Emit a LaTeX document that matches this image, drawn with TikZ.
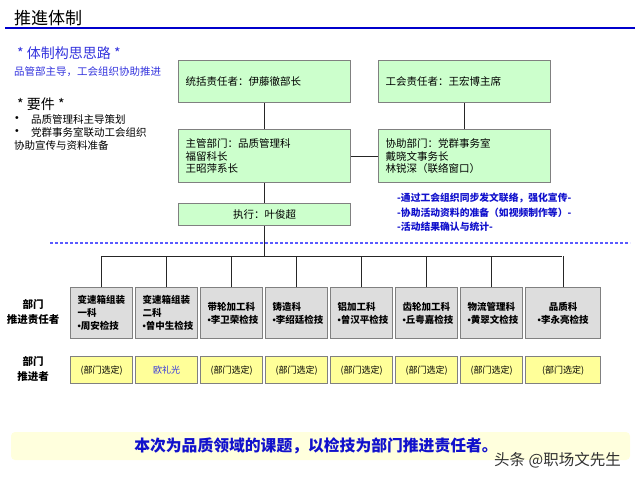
\documentclass[tikz,border=0pt]{standalone}
\usepackage{fontspec}
\setmainfont{Noto Sans CJK SC}
\newfontfamily\blt{Liberation Sans}
\newcommand{\bul}{{\blt •}}
\definecolor{boxgray}{RGB}{128,128,128}
\definecolor{gfill}{RGB}{204,255,204}
\definecolor{dfill}{RGB}{221,221,221}
\definecolor{yfill}{RGB}{255,255,153}
\definecolor{bfill}{RGB}{255,255,221}
\definecolor{titleblue}{RGB}{0,0,204}
\definecolor{lblue}{RGB}{51,51,221}
\definecolor{dblue}{RGB}{17,17,204}
\definecolor{dashblue}{RGB}{90,90,255}
\definecolor{wm}{RGB}{50,50,50}
\tikzset{
  greenbox/.style={draw=boxgray, line width=1.3pt, fill=gfill, inner xsep=7pt, inner ysep=0pt,
    align=left, anchor=north west, font=\fontsize{10.5}{12.5}\selectfont},
  graybox/.style={draw=boxgray, line width=1.3pt, fill=dfill, inner xsep=7pt, inner ysep=0pt,
    align=left, anchor=north west, minimum height=51pt, font=\bfseries\fontsize{9.5}{13}\selectfont},
  yelbox/.style={draw=boxgray, line width=1.3pt, fill=yfill, inner sep=0pt,
    align=center, anchor=north west, minimum height=27pt, font=\fontsize{9}{11}\selectfont},
  conn/.style={draw=black!85, line width=0.9pt},
  lbl/.style={anchor=west, inner sep=0pt},
}
\begin{document}
\begin{tikzpicture}[x=1pt,y=-1pt]
\useasboundingbox (0,0) rectangle (640,480);
% title
\node[lbl, font=\fontsize{17}{19}\selectfont] (title) at (14,18) {推進体制};
\draw[titleblue, line width=2.5pt] (5,28) -- (635,28);
% left texts
\node[lbl, text=lblue, font=\fontsize{14}{16}\selectfont] (t1) at (17,53) {* 体制构思思路 *};
\node[lbl, text=lblue, font=\fontsize{10.5}{12}\selectfont] (t2) at (14,72) {品管部主导，工会组织协助推进};
\node[lbl, font=\fontsize{14}{16}\selectfont] (t3) at (17,104) {* 要件 *};
\node[lbl, font=\fontsize{10.5}{12}\selectfont] (bu1) at (15,119) {\bul};
\node[lbl, font=\fontsize{10.5}{12}\selectfont] (t4) at (31,119) {品质管理科主导策划};
\node[lbl, font=\fontsize{10.5}{12}\selectfont] (bu2) at (15,132) {\bul};
\node[lbl, font=\fontsize{10.5}{12}\selectfont] (t5) at (31,132) {党群事务室联动工会组织};
\node[lbl, font=\fontsize{10.5}{12}\selectfont] (t6) at (14,145) {协助宣传与资料准备};
% green boxes
\node[greenbox, text width=158pt, minimum height=42pt] (b1) at (178,60) {统括责任者：伊藤徹部长};
\node[greenbox, text width=158pt, minimum height=42pt] (b2) at (378,60) {工会责任者：王宏博主席};
\node[greenbox, text width=158pt, minimum height=53pt] (b3) at (178,129) {主管部门：品质管理科\\福留科长\\王昭萍系长};
\node[greenbox, text width=158pt, minimum height=53pt] (b4) at (378,129) {协助部门：党群事务室\\戴晓文事务长\\林锐深（联络窗口）};
\node[greenbox, align=center, text width=158pt, minimum height=22pt] (b5) at (178,203) {执行：叶俊超};
\draw[conn] (b1.south) -- (b3.north);
\draw[conn] (b2.south) -- (b4.north);
\draw[conn] (b3.east) -- (b4.west);
\draw[conn] (b3.south) -- (b5.north);
% blue notes
\node[lbl, text=dblue, font=\bfseries\fontsize{9.8}{12}\selectfont] (n1) at (397,198) {-通过工会组织同步发文联络，强化宣传-};
\node[lbl, text=dblue, font=\bfseries\fontsize{9.8}{12}\selectfont] (n2) at (397,213) {-协助活动资料的准备（如视频制作等）-};
\node[lbl, text=dblue, font=\bfseries\fontsize{9.8}{12}\selectfont] (n3) at (397,227) {-活动结果确认与统计-};
% dashed separator
\draw[dashblue, line width=1.1pt, dash pattern=on 2.5pt off 2.5pt] (50,243) -- (630,243);
% row labels
\node[align=center, inner sep=0pt, font=\bfseries\fontsize{10.5}{15}\selectfont] (r1) at (33,312) {部门\\推进责任者};
\node[align=center, inner sep=0pt, font=\bfseries\fontsize{10.5}{15}\selectfont] (r2) at (33,369) {部门\\推进者};
% gray boxes
\node[graybox, text width=48pt] (g1) at (70,287) {变速箱组装\\一科\\\bul 周安检技};
\node[graybox, text width=48pt] (g2) at (135,287) {变速箱组装\\二科\\\bul 曾中生检技};
\node[graybox, text width=48pt] (g3) at (200,287) {带轮加工科\\\bul 李卫荣检技};
\node[graybox, text width=48pt] (g4) at (265,287) {铸造科\\\bul 李绍廷检技};
\node[graybox, text width=48pt] (g5) at (330,287) {铝加工科\\\bul 曾汉平检技};
\node[graybox, text width=48pt] (g6) at (395,287) {齿轮加工科\\\bul 丘粤嘉检技};
\node[graybox, text width=48pt] (g7) at (460,287) {物流管理科\\\bul 黄翠文检技};
\node[graybox, text width=61pt, align=center] (g8) at (525,287) {品质科\\\bul 李永亮检技};
% bus
\coordinate (busL) at (101,256);
\coordinate (busR) at (562,256);
\draw[conn] (busL) -- (busR);
\draw[conn] (b5.south) -- (b5.south |- busL);
\foreach \g in {g1,g2,g3,g4,g5,g6,g7,g8}{\draw[conn] (\g.north) -- (\g.north |- busL);}
% yellow boxes
\node[yelbox, minimum width=62pt] (y1) at (70,356) {(部门选定)};
\node[yelbox, minimum width=62pt, text=lblue] (y2) at (135,356) {欧礼光};
\node[yelbox, minimum width=62pt] (y3) at (200,356) {(部门选定)};
\node[yelbox, minimum width=62pt] (y4) at (265,356) {(部门选定)};
\node[yelbox, minimum width=62pt] (y5) at (330,356) {(部门选定)};
\node[yelbox, minimum width=62pt] (y6) at (395,356) {(部门选定)};
\node[yelbox, minimum width=62pt] (y7) at (460,356) {(部门选定)};
\node[yelbox, minimum width=75pt] (y8) at (525,356) {(部门选定)};
% banner
\fill[bfill, rounded corners=4pt] (11,432) rectangle (630,460);
\node[text=dblue, inner sep=0pt, font=\bfseries\fontsize{15.8}{18}\selectfont] (ban) at (316,446) {本次为品质领域的课题，以检技为部门推进责任者。};
\node[lbl, text=wm, font=\fontsize{15.5}{17}\selectfont] (wmk) at (494,460) {头条 @职场文先生};
\end{tikzpicture}
\end{document}
